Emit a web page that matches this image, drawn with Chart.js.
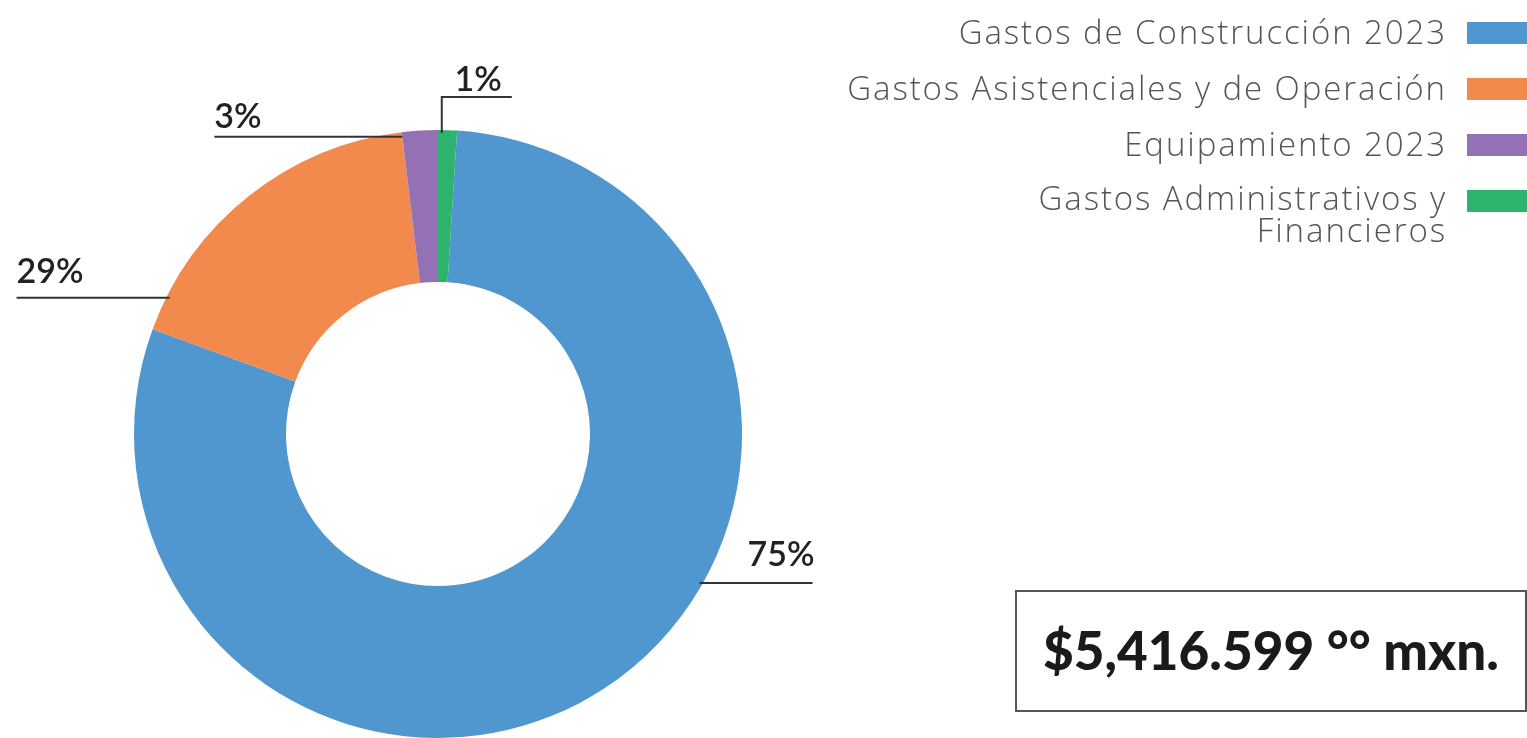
<!DOCTYPE html>
<html>
<head>
<meta charset="utf-8">
<script src="https://cdn.jsdelivr.net/npm/chart.js@4/dist/chart.umd.min.js"></script>
<style>
  html, body { margin: 0; padding: 0; background: #fff; overflow: hidden; }
  #wrap { position: absolute; left: 0; top: 0; width: 1527px; height: 738px; }
  #legend {
    position: absolute; right: 0; top: 14px;
    display: flex; flex-direction: column; align-items: flex-end; gap: 20px;
    font-family: "Open Sans", sans-serif; font-weight: 300; font-size: 33px; color: #555;
    letter-spacing: 1.9px;
  }
  .row { display: flex; align-items: flex-start; }
  .row span { text-align: right; white-space: pre-line; line-height: 36px; }
  .row i { display: block; width: 60px; height: 22px; margin: 8px 0 0 20px; }
  #total {
    position: absolute; left: 1015px; top: 590px; width: 508px; height: 114px;
    border: 2px solid #555; display: flex; align-items: center; justify-content: center;
    font-family: Lato, sans-serif; font-weight: 900; font-size: 53px; color: #1a1a1a;
    padding-bottom: 4px; box-sizing: content-box;
  }
</style>
</head>
<body>
<div id="wrap"><canvas id="chart"></canvas></div>
<div id="legend"></div>
<div id="total"></div>
<script>
// categories and values
const categories = [
  'Gastos de Construcción 2023',
  'Gastos Asistenciales y de Operación',
  'Equipamiento 2023',
  'Gastos Administrativos y\nFinancieros'
];
const shares = [79.6, 17.5, 1.9, 1.0];
const pctLabels = ['75%', '29%', '3%', '1%'];
const colors = ['#5096cf', '#f28a4e', '#9470b5', '#2db36e'];
const totalText = '$5,416.599 °° mxn.';

// leader line setup per slice: where on the arc, then segments, then text spot
const callouts = [
  { frac: 0.405, r: 0.99, segs: [[113, 0]], align: 'right', dx: 2, dy: -17 },
  { frac: 0.107, r: 0.99, segs: [[-153, 0]], align: 'left', dx: 0, dy: -15 },
  { frac: 0, r: 0.985, segs: [[-188, 0]], align: 'left', dx: 0, dy: -9 },
  { frac: 0.2, r: 0.99, segs: [[0, -36], [70, 0]], align: 'right', dx: -10, dy: -6 }
];

const legendEl = document.getElementById('legend');
categories.forEach((c, i) => {
  const row = document.createElement('div');
  row.className = 'row';
  const t = document.createElement('span');
  t.textContent = c;
  if (c.includes('\n')) t.style.lineHeight = '32px';
  const box = document.createElement('i');
  box.style.background = colors[i];
  row.appendChild(t);
  row.appendChild(box);
  legendEl.appendChild(row);
});
document.getElementById('total').textContent = totalText;

const calloutPlugin = {
  id: 'callouts',
  afterDatasetsDraw(chart) {
    const ctx = chart.ctx;
    const meta = chart.getDatasetMeta(0);
    meta.data.forEach((arc, i) => {
      const c = callouts[i];
      const a = arc.startAngle + c.frac * (arc.endAngle - arc.startAngle);
      let x = arc.x + arc.outerRadius * c.r * Math.cos(a);
      let y = arc.y + arc.outerRadius * c.r * Math.sin(a);
      ctx.save();
      ctx.strokeStyle = '#333';
      ctx.lineWidth = 2;
      ctx.beginPath();
      ctx.moveTo(x, y);
      c.segs.forEach(([sx, sy]) => { x += sx; y += sy; ctx.lineTo(x, y); });
      ctx.stroke();
      ctx.fillStyle = '#222';
      ctx.font = '600 34px Lato, sans-serif';
      ctx.textAlign = c.align;
      ctx.textBaseline = 'alphabetic';
      const last = c.segs[c.segs.length - 1][0];
      const left = Math.min(x, x - last);
      const right = Math.max(x, x - last);
      const tx = c.align === 'left' ? left + c.dx : right + c.dx;
      ctx.fillText(pctLabels[i], tx, y + c.dy);
      ctx.restore();
    });
  }
};

new Chart(document.getElementById('chart'), {
  type: 'doughnut',
  data: {
    labels: categories,
    datasets: [{
      data: shares,
      backgroundColor: colors,
      borderWidth: 0
    }]
  },
  options: {
    responsive: true,
    maintainAspectRatio: false,
    animation: false,
    rotation: 3.6,
    cutout: '50%',
    layout: { padding: { left: 133, top: 130, right: 784, bottom: 0 } },
    plugins: {
      legend: { display: false },
      tooltip: { enabled: false }
    }
  },
  plugins: [calloutPlugin]
});
</script>
</body>
</html>
